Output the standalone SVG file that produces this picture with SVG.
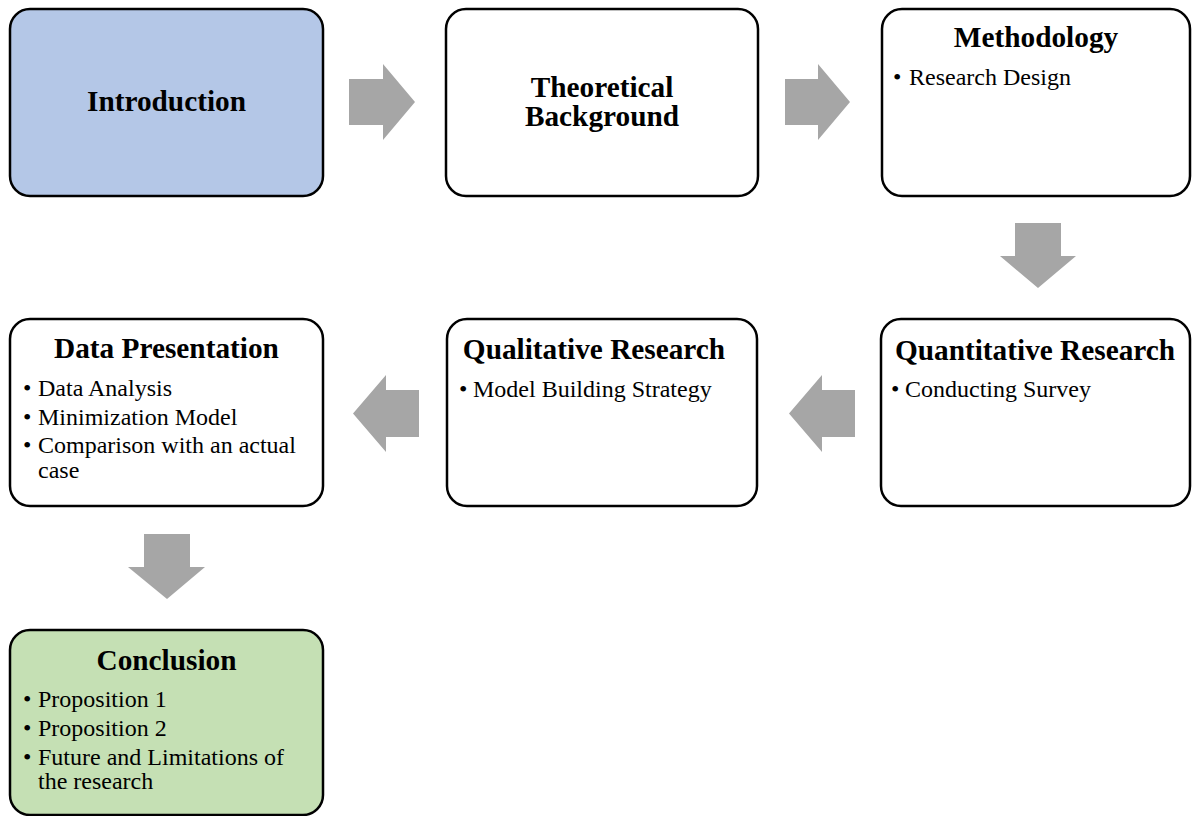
<svg xmlns="http://www.w3.org/2000/svg" width="1192" height="816" viewBox="0 0 1192 816">
<style>
.box{stroke:#000;stroke-width:2.5;fill:#fff}
.blue{fill:#B4C7E7}
.green{fill:#C5E0B4}
.arrow{fill:#A6A6A6;stroke:none}
.t{font-family:"Liberation Serif","Times New Roman",serif;font-weight:bold;font-size:29.3px;fill:#000;text-anchor:middle}
.b{font-family:"Liberation Serif","Times New Roman",serif;font-size:24px;fill:#000}
</style>
<rect width="1192" height="816" fill="#fff"/>
<g id="connectors">
<path class="arrow" d="M349,79 H383 V64 L415,102 L383,140 V125 H349 Z"/>
<path class="arrow" d="M785,79 H818 V64 L850,102 L818,140 V125 H785 Z"/>
<path class="arrow" d="M1015,223 H1061 V256 H1076 L1038,288 L1000,256 H1015 Z"/>
<path class="arrow" d="M855,390 V437 H822 V452 L789,413.5 L822,375 V390 Z"/>
<path class="arrow" d="M419,390 V437 H386 V452 L353,413.5 L386,375 V390 Z"/>
<path class="arrow" d="M144,534 H190 V567 H205 L167,599 L128,567 H144 Z"/>
</g>
<g id="introduction">
<rect class="box blue" x="10" y="9" width="313" height="187" rx="20"/>
<text class="t" x="166.5" y="111">Introduction</text>
</g>
<g id="theoretical">
<rect class="box" x="446" y="9" width="312" height="187" rx="20"/>
<text class="t" x="602" y="97">Theoretical</text>
<text class="t" x="602" y="126">Background</text>
</g>
<g id="methodology">
<rect class="box" x="882" y="9" width="308" height="187" rx="20"/>
<text class="t" x="1036" y="47">Methodology</text>
<text class="b" x="893" y="85">•</text><text class="b" x="909" y="85">Research Design</text>
</g>
<g id="quantitative">
<rect class="box" x="881" y="319" width="309" height="187" rx="20"/>
<text class="t" x="1035" y="360">Quantitative Research</text>
<text class="b" x="891" y="397">•</text><text class="b" x="905" y="397">Conducting Survey</text>
</g>
<g id="qualitative">
<rect class="box" x="447" y="319" width="310" height="187" rx="20"/>
<text class="t" x="594" y="359">Qualitative Research</text>
<text class="b" x="459" y="397">•</text><text class="b" x="473" y="397">Model Building Strategy</text>
</g>
<g id="data-presentation">
<rect class="box" x="10" y="319" width="313" height="187" rx="20"/>
<text class="t" x="166.5" y="358">Data Presentation</text>
<text class="b" x="23" y="396">•</text><text class="b" x="38" y="396">Data Analysis</text>
<text class="b" x="23" y="425">•</text><text class="b" x="38" y="425">Minimization Model</text>
<text class="b" x="23" y="453">•</text><text class="b" x="38" y="453">Comparison with an actual</text>
<text class="b" x="38" y="478">case</text>
</g>
<g id="conclusion">
<rect class="box green" x="10" y="630" width="313" height="185" rx="20"/>
<text class="t" x="166.5" y="670">Conclusion</text>
<text class="b" x="23" y="707">•</text><text class="b" x="38" y="707">Proposition 1</text>
<text class="b" x="23" y="736">•</text><text class="b" x="38" y="736">Proposition 2</text>
<text class="b" x="23" y="765">•</text><text class="b" x="38" y="765">Future and Limitations of</text>
<text class="b" x="38" y="789">the research</text>
</g>
</svg>
